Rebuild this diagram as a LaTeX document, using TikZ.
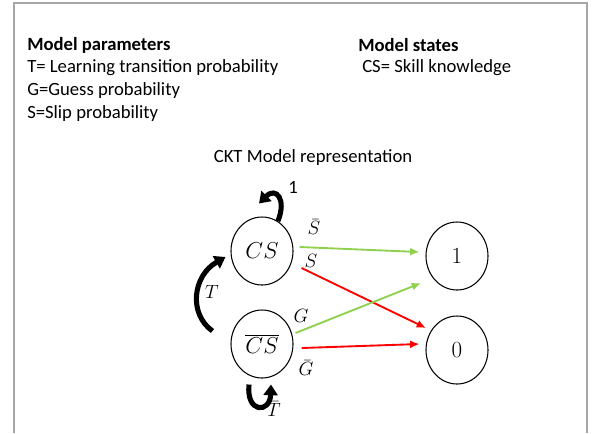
\documentclass[tikz,border=0pt]{standalone}
\usepackage{fontspec}
\setmainfont{Carlito}
\usetikzlibrary{shapes.geometric,arrows.meta,calc}

\definecolor{framegray}{HTML}{A6A6A6}
\definecolor{probgreen}{HTML}{8FD14F}
\definecolor{probred}{HTML}{FF0000}

\tikzset{
  txt/.style={anchor=west,inner sep=0pt,font=\fontsize{14}{16}\selectfont},
  head/.style={txt,font=\fontsize{14}{16}\selectfont\bfseries},
  state/.style={ellipse,draw,line width=0.8pt,minimum width=46.5pt,minimum height=51pt,inner sep=0pt,font=\fontsize{16}{18}\selectfont},
  lbl/.style={inner sep=0pt,font=\fontsize{14}{16}\selectfont},
  prob/.style={line width=1.4pt,-{Latex[length=7pt,width=6pt]}},
  bigarrow/.style={line width=3.8pt,-{Triangle[length=8pt,width=10.5pt]}}
}

\begin{document}
\begin{tikzpicture}[x=0.75pt,y=-0.75pt]
  \useasboundingbox (0,0) rectangle (595,433);

  % open frame around the panel
  \draw[framegray,line width=1.1pt] (14,433) -- (14,3) -- (587,3) -- (587,433);

  % legend
  \node[head] (mphead) at (27,45) {Model parameters};
  \node[txt] (tdef) at (27,68) {T= Learning transition probability};
  \node[txt] (gdef) at (27,91) {G=Guess probability};
  \node[txt] (sdef) at (27,114) {S=Slip probability};
  \node[head] (mshead) at (358,45) {Model states};
  \node[txt] (csdef) at (362,68) {CS= Skill knowledge};

  \node[txt,anchor=center] (title) at (313,158) {CKT Model representation};

  % states and outcomes
  \node[state] (cs) at (262,251) {$CS$};
  \node[state] (ncs) at (262,344) {$\overline{CS}$};
  \node[state] (one) at (457,256) {$1$};
  \node[state] (zero) at (457,350) {$0$};

  % emission arrows
  \draw[prob,probgreen] ($(cs.east)+(6,-4)$) -- ($(one.west)+(-6,-4)$);
  \draw[prob,probred] ($(cs.east)+(8,17)$) -- ($(zero.center)+(-31,-22)$);
  \draw[prob,probgreen] ($(ncs.east)+(2,-11)$) -- ($(one.center)+(-36,27)$);
  \draw[prob,probred] ($(ncs.east)+(8,4)$) -- ($(zero.west)+(-6,-6)$);

  \node[lbl] (lsbar) at (314,227) {$\bar S$};
  \node[lbl] (ls) at (311,261) {$S$};
  \node[lbl] (lg) at (301,316) {$G$};
  \node[lbl] (lgbar) at (306,368) {$\bar G$};

  % self-loop on the known state
  \draw[bigarrow] (cs.62) .. controls ($(cs.62)+(9,-22)$) and ($(cs.north)+(14,-30)$) .. ($(cs.north)+(-3,-13)$);
  \node[lbl] (lone) at (293,187) {1};

  % learning transition
  \draw[bigarrow] ($(ncs.west)+(-18,-13)$) .. controls ($(ncs.west)+(-42,-30)$) and ($(cs.west)+(-38,25)$) .. ($(cs.west)+(-5,6)$);
  \node[lbl] (lt) at (212,292) {$T$};

  % self-loop on the unknown state
  \draw[bigarrow] ($(ncs.south)+(-13,6)$) .. controls ($(ncs.south)+(-16,35)$) and ($(ncs.south)+(8,35)$) .. ($(ncs.south)+(9,6)$);
  \node[lbl] (ltbar) at (274,409) {$\bar T$};
\end{tikzpicture}
\end{document}
